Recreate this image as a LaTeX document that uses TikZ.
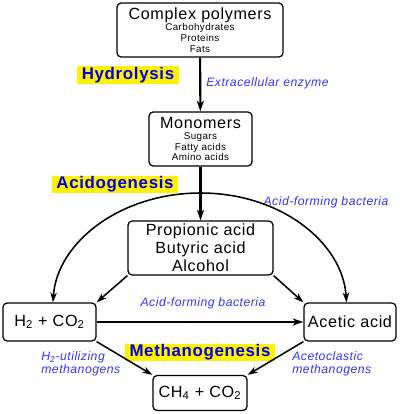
\documentclass[tikz,border=0pt]{standalone}
\usepackage{fontspec}
\setmainfont[LetterSpace=4]{Liberation Sans}
\usetikzlibrary{arrows.meta}
\definecolor{labelblue}{RGB}{51,51,255}
\definecolor{stageblue}{RGB}{0,0,230}
\newcommand\boxtitle{\fontsize{11.5}{12.8}\selectfont}
\newcommand\boxlist{\fontsize{7}{7.6}\selectfont}
\tikzstyle{box} = [rectangle, rounded corners=3pt, draw=black, line width=0.9pt, align=center, inner sep=0pt]
\tikzstyle{stage} = [fill=yellow, text=stageblue, font=\fontsize{12}{14}\selectfont\bfseries, inner xsep=3.5pt, inner ysep=0pt, minimum height=0.425cm]
\tikzstyle{enzyme} = [text=labelblue, font=\fontsize{8.7}{9.4}\selectfont\itshape, align=left, inner sep=0pt]
\tikzstyle{arrow} = [line width=1.5pt,->,>={Stealth[length=7.5pt,width=5pt,inset=2pt]}]
\tikzstyle{curve} = [line width=1.1pt,->,>={Stealth[length=7pt,width=4.6pt,inset=2pt]}]

\begin{document}
\begin{tikzpicture}[x=0.025cm, y=-0.025cm]
	\useasboundingbox (0,0) rectangle (400,414);

	\node (poly) [box, minimum width=4.15cm, minimum height=1.35cm, font=\boxlist] at (200,30) {
		{\boxtitle Complex polymers}\\[0.5pt]
		Carbohydrates\\
		Proteins\\
		Fats
	};
	\node (mono) [box, minimum width=2.575cm, minimum height=1.35cm, font=\boxlist] at (200.5,139) {
		{\boxtitle Monomers}\\[0.5pt]
		Sugars\\
		Fatty acids\\
		Amino acids
	};
	\node (acids) [box, minimum width=3.625cm, minimum height=1.35cm, font=\boxtitle] at (200.5,248) {
		Propionic acid\\
		Butyric acid\\
		Alcohol
	};
	\node (h2) [box, minimum width=2.325cm, minimum height=0.95cm, font=\boxtitle] at (49.5,322) {H\textsubscript{2} + CO\textsubscript{2}};
	\node (acetic) [box, minimum width=2.3cm, minimum height=0.95cm, font=\boxtitle] at (350,322) {Acetic acid};
	\node (ch4) [box, minimum width=2.35cm, minimum height=0.875cm, font=\boxtitle] at (200,393) {CH\textsubscript{4} + CO\textsubscript{2}};

	\node (hydro) [stage] at (128,75) {Hydrolysis};
	\node (acido) [stage] at (115,184) {Acidogenesis};
	\node (methano) [stage] at (200,352.5) {Methanogenesis};

	\node (extra) [enzyme, anchor=west] at (206,83) {Extracellular enzyme};
	\node (afbtop) [enzyme] at (326,202) {Acid-forming bacteria};
	\node (afbmid) [enzyme] at (203,303) {Acid-forming bacteria};
	\node (h2meth) [enzyme, anchor=west] at (41,364) {H\textsubscript{2}-utilizing\\methanogens};
	\node (acemeth) [enzyme, anchor=west] at (292,364) {Acetoclastic\\methanogens};

	\coordinate (split) at (200.5,193);

\draw [arrow] (poly) -- (mono);
\draw [arrow] (mono) -- (acids);
\draw [curve] (split) .. controls +(-80,0) and +(4,-60) .. (h2.80);
\draw [curve] (split) .. controls +(80,0) and +(-4,-60) .. (acetic.100);
\draw [curve] (acids.south west) -- (h2.north east);
\draw [curve] (acids.south east) -- (acetic.north west);
\draw [arrow] (h2) -- (acetic);
\draw [curve] (h2.south east) -- (ch4.north west);
\draw [curve] (acetic.south west) -- (ch4.north east);

\end{tikzpicture}
\end{document}
